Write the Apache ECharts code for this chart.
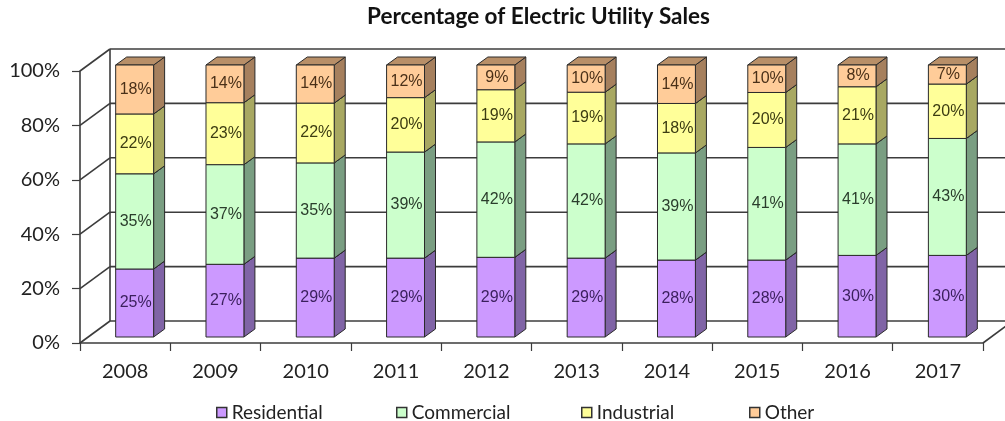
<!DOCTYPE html>
<html><head><meta charset="utf-8">
<script src="https://cdn.jsdelivr.net/npm/echarts@6/dist/echarts.min.js"></script>
<style>html,body{margin:0;padding:0;background:#fff}#c{width:1005px;height:421px}</style>
</head><body><div id="c"></div>
<script>
const years = ['2008','2009','2010','2011','2012','2013','2014','2015','2016','2017'];
const residential = [25,27,29,29,29,29,28,28,30,30];
const commercial  = [35,37,35,39,42,42,39,41,41,43];
const industrial  = [22,23,22,20,19,19,18,20,21,20];
const other       = [18,14,14,12,9,10,14,10,8,7];
const yTicks = [0,20,40,60,80,100];
const seriesNames = ['Residential','Commercial','Industrial','Other'];

const valueSets = [residential, commercial, industrial, other];
const styles = [
  {front:'#cc99ff', side:'#8064a6', top:'#9c7cc8', text:'#3a1f5c'},
  {front:'#ccffcc', side:'#7a9e82', top:'#9cc4a0', text:'#2a3d2c'},
  {front:'#ffff99', side:'#a8a862', top:'#c8c870', text:'#3c3c12'},
  {front:'#ffcc99', side:'#a6805e', top:'#b88f68', text:'#4a3018'}
];
const WALL = {dx:30, dy:-22};
const BAR = {ox:9.5, oy:-6, dx:11, dy:-8, ratio:0.42};
const lineCol = '#3c3c3c';
const FONT = 'Lato, "Open Sans", sans-serif';

// percent-stacked: normalise each year to 100
const totals = years.map((_, i) => valueSets.reduce((s, a) => s + a[i], 0));

function barSeries(k) {
  const vals = valueSets[k], st = styles[k];
  const data = years.map((_, i) => {
    let base = 0;
    for (let j = 0; j < k; j++) base += valueSets[j][i];
    const b = base / totals[i] * 100, t = (base + vals[i]) / totals[i] * 100;
    return [i, b, t, vals[i]];
  });
  return {
    type:'custom', name: seriesNames[k], coordinateSystem:'cartesian2d', z: 3,
    itemStyle:{color: st.front},
    data, encode:{x:0, y:[1,2]},
    renderItem:(params, api) => {
      const i = api.value(0);
      const p0 = api.coord([i, api.value(1)]);
      const p1 = api.coord([i, api.value(2)]);
      const w = api.size([1, 0])[0] * BAR.ratio;
      const xl = p0[0] + BAR.ox - w / 2, xr = xl + w;
      const yb = p0[1] + BAR.oy, yt = p1[1] + BAR.oy;
      const s = {stroke:'#2a2a2a', lineWidth:1};
      return {type:'group', children:[
        {type:'polygon', shape:{points:[[xr,yb],[xr+BAR.dx,yb+BAR.dy],[xr+BAR.dx,yt+BAR.dy],[xr,yt]]}, style:Object.assign({fill:st.side}, s)},
        {type:'polygon', shape:{points:[[xl,yt],[xr,yt],[xr+BAR.dx,yt+BAR.dy],[xl+BAR.dx,yt+BAR.dy]]}, style:Object.assign({fill:st.top}, s)},
        {type:'rect', shape:{x:xl, y:yt, width:w, height:yb-yt}, style:Object.assign({fill:st.front}, s)},
        {type:'text', z2: 10, style:{text: api.value(3) + '%', x:(xl+xr)/2 + 1, y:(yt+yb)/2, align:'center', verticalAlign:'middle', fill: st.text, fontSize:16, fontFamily:'"Liberation Sans", Arial, sans-serif'}}
      ]};
    }
  };
}

const wallSeries = {
  type:'custom', coordinateSystem:'cartesian2d', z: 1, silent:true,
  data:[[0, 0]], encode:{x:0, y:1},
  renderItem:(params, api) => {
    const cs = params.coordSys;
    const x0 = cs.x, x1 = cs.x + cs.width;
    const ls = {stroke: lineCol, lineWidth: 1.6};
    const ch = [];
    yTicks.forEach(v => {
      const y = api.coord([0, v])[1];
      ch.push({type:'line', shape:{x1:x0, y1:y, x2:x0+WALL.dx, y2:y+WALL.dy}, style:ls});
      ch.push({type:'line', shape:{x1:x0+WALL.dx, y1:y+WALL.dy, x2:x1+WALL.dx, y2:y+WALL.dy}, style:ls});
    });
    const yb = api.coord([0, 0])[1], ytp = api.coord([0, 100])[1];
    ch.push({type:'line', shape:{x1:x0+WALL.dx, y1:yb+WALL.dy, x2:x0+WALL.dx, y2:ytp+WALL.dy}, style:ls});
    ch.push({type:'line', shape:{x1:x1, y1:yb, x2:x1+WALL.dx, y2:yb+WALL.dy}, style:ls});
    return {type:'group', children: ch};
  }
};

const legendLeft = [216, 396, 581, 749];
const legends = seriesNames.map((n, k) => ({
  left: legendLeft[k], top: 403, padding: 0, itemWidth: 10, itemHeight: 10, icon:'rect',
  selectedMode:false,
  data:[{name:n, itemStyle:{color: styles[k].front, borderColor:'#333', borderWidth:1.5}}],
  textStyle:{fontSize:19, color:'#222', fontFamily: FONT}
}));

const chart = echarts.init(document.getElementById('c'), null, {renderer:'canvas'});
chart.setOption({
  animation:false,
  backgroundColor:'#fff',
  title:{text:'Percentage of Electric Utility Sales', left:367, top:5, padding:0,
    textStyle:{fontSize:22.5, fontWeight:'bold', color:'#111', fontFamily: FONT}},
  legend: legends,
  grid:{left:80, right:22, top:71, bottom:78, containLabel:false, outerBoundsMode:'none'},
  xAxis:{type:'category', data: years, boundaryGap:true,
    axisLine:{show:true, lineStyle:{color:lineCol, width:1.6}},
    axisTick:{show:true, length:8, interval:0, lineStyle:{color:lineCol, width:1.2}},
    axisLabel:{margin:19, fontSize:20, color:'#222', fontFamily: FONT, interval:0},
    splitLine:{show:false}},
  yAxis:{type:'value', min:0, max:100, interval:20,
    axisLine:{show:true, lineStyle:{color:lineCol, width:1.6}},
    axisTick:{show:true, length:8, lineStyle:{color:lineCol, width:1.2}},
    axisLabel:{formatter:'{value}%', margin:20, fontSize:20, color:'#222', fontFamily: FONT},
    splitLine:{show:false}},
  series:[wallSeries].concat([0,1,2,3].map(barSeries))
});
</script></body></html>
